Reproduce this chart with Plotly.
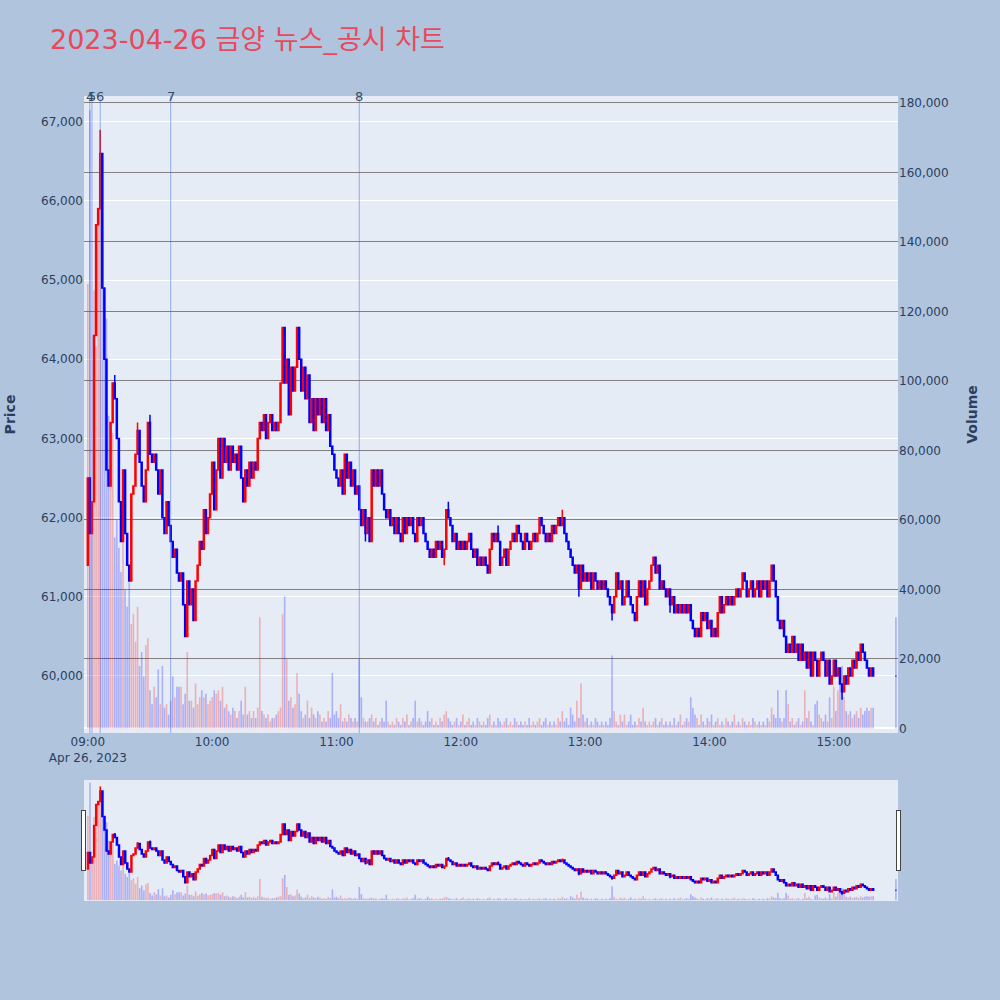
import pandas as pd
import plotly.graph_objects as go
from plotly.subplots import make_subplots

# ---- data -------------------------------------------------------------
minute_times = list(pd.date_range("2023-04-26 09:00", periods=380, freq="min")) + [
    pd.Timestamp("2023-04-26 15:30")
]

first_open = 61400

close = [
    62500, 61800, 62200, 64300, 65700, 65900, 66600, 64900, 64000, 62600,
    62400, 63200, 63700, 63500, 63000, 62200, 61700, 62600, 61800, 61400,
    61200, 62300, 62400, 62800, 63100, 62700, 62400, 62200, 62600, 63200,
    62800, 62700, 62800, 62600, 62300, 62600, 62000, 61800, 62200, 61900,
    61700, 61500, 61600, 61300, 61200, 61300, 60900, 60500, 61200, 60900,
    61100, 60700, 61200, 61400, 61700, 61600, 62100, 61800, 62000, 62300,
    62700, 62100, 62600, 63000, 62500, 63000, 62700, 62900, 62600, 62900,
    62700, 62800, 62600, 62900, 62500, 62200, 62600, 62400, 62700, 62500,
    62700, 62600, 63000, 63200, 63100, 63300, 63000, 63200, 63300, 63100,
    63200, 63100, 63200, 63700, 64400, 63700, 64000, 63300, 63900, 63600,
    63900, 64400, 64000, 63600, 63900, 63500, 63800, 63200, 63500, 63100,
    63500, 63300, 63500, 63200, 63500, 63100, 63300, 62900, 62800, 62600,
    62500, 62400, 62600, 62300, 62800, 62500, 62700, 62400, 62600, 62300,
    62400, 62100, 61900, 62100, 61800, 62000, 61700, 62600, 62400, 62600,
    62400, 62600, 62300, 62100, 62000, 62100, 61900, 62000, 61800, 62000,
    61800, 61700, 62000, 61800, 62000, 61900, 62000, 61800, 61700, 62000,
    61900, 62000, 61800, 61700, 61600, 61500, 61600, 61500, 61700, 61600,
    61700, 61500, 61600, 62100, 62000, 61900, 61700, 61800, 61600, 61700,
    61600, 61700, 61600, 61700, 61800, 61600, 61500, 61600, 61400, 61500,
    61400, 61500, 61400, 61300, 61600, 61800, 61700, 61800, 61700, 61400,
    61500, 61600, 61400, 61600, 61700, 61800, 61700, 61900, 61800, 61700,
    61600, 61800, 61700, 61600, 61700, 61800, 61700, 61800, 62000, 61900,
    61800, 61700, 61800, 61700, 61900, 61800, 61900, 62000, 61900, 62000,
    61800, 61700, 61600, 61500, 61400, 61300, 61400, 61100, 61400, 61200,
    61300, 61200, 61300, 61100, 61300, 61200, 61100, 61200, 61100, 61200,
    61100, 61000, 60900, 60800, 61000, 61300, 61100, 61200, 60900, 61000,
    61200, 61000, 60900, 60800, 60700, 61000, 61200, 61000, 61200, 60900,
    61100, 61200, 61400, 61500, 61300, 61400, 61100, 61200, 61100, 61000,
    61100, 60900, 61000, 60800, 60900, 60800, 60900, 60800, 60900, 60800,
    60900, 60700, 60600, 60500, 60600, 60500, 60800, 60700, 60800, 60600,
    60700, 60500, 60600, 60500, 60800, 61000, 60800, 60900, 61000, 60900,
    61000, 60900, 61000, 61100, 61000, 61100, 61300, 61200, 61000, 61100,
    61200, 61000, 61100, 61200, 61000, 61200, 61100, 61200, 61000, 61200,
    61400, 61200, 61000, 60700, 60600, 60700, 60500, 60300, 60400, 60300,
    60500, 60300, 60400, 60200, 60400, 60200, 60300, 60100, 60300, 60000,
    60300, 60200, 60000, 60200, 60300, 60200, 60000, 60200, 59900, 60000,
    60200, 60000, 60100, 59900, 59800, 60000, 59900, 60100, 60000, 60200,
    60100, 60300, 60200, 60400, 60300, 60200, 60100, 60000, 60100, 60000,
    60000,
]

volume = [
    128000, 178000, 62000, 126000, 110000, 150000, 172000, 163000, 125000, 118000,
    90000, 70000, 85000, 55000, 60000, 52000, 45000, 58000, 40000, 35000,
    42000, 30000, 33000, 25000, 35000, 18000, 22000, 15000, 24000, 26000,
    11000, 7000, 12000, 9000, 17000, 7000, 18000, 6000, 7000, 4000,
    8000, 15000, 9000, 12000, 12000, 12000, 7000, 10000, 22000, 8000,
    8000, 6000, 13000, 7000, 9000, 11000, 9000, 10000, 7000, 8000,
    9000, 11000, 10000, 11000, 8000, 12000, 6000, 7000, 5000, 4000,
    6000, 5000, 3000, 5000, 8000, 4000, 12000, 4000, 5000, 3000,
    5000, 3000, 6000, 32000, 5000, 4000, 3000, 4000, 2000, 3000,
    3000, 4000, 5000, 6000, 33000, 38000, 20000, 8000, 9000, 6000,
    7000, 16000, 10000, 5000, 3000, 4000, 8000, 3000, 6000, 4000,
    3000, 5000, 4000, 2000, 3000, 2000, 5000, 3000, 16000, 4000,
    5000, 3000, 7000, 2000, 3000, 2000, 4000, 3000, 2000, 3000,
    2000, 20000, 9000, 3000, 2000, 2000, 3000, 4000, 2000, 3000,
    1000, 2000, 3000, 2000, 8000, 2000, 1000, 2000, 1000, 3000,
    2000, 1000, 3000, 2000, 4000, 1000, 2000, 3000, 8000, 2000,
    3000, 2000, 1000, 2000, 5000, 2000, 3000, 1000, 2000, 1000,
    3000, 2000, 4000, 5000, 3000, 2000, 1000, 2000, 3000, 1000,
    2000, 4000, 1000, 2000, 3000, 1000, 2000, 1000, 3000, 2000,
    1000, 2000, 1000, 3000, 4000, 1000, 2000, 1000, 3000, 2000,
    1000, 2000, 3000, 1000, 2000, 1000, 3000, 2000, 1000, 2000,
    1000, 2000, 1000, 3000, 1000, 2000, 1000, 2000, 3000, 1000,
    2000, 3000, 1000, 2000, 1000, 2000, 1000, 3000, 2000, 5000,
    2000, 3000, 1000, 6000, 4000, 2000, 8000, 3000, 13000, 4000,
    2000, 3000, 1000, 2000, 1000, 3000, 2000, 1000, 2000, 1000,
    2000, 1000, 3000, 21000, 5000, 2000, 1000, 4000, 2000, 4000,
    1000, 2000, 4000, 1000, 2000, 1000, 3000, 2000, 6000, 2000,
    1000, 2000, 1000, 2000, 3000, 1000, 2000, 3000, 1000, 2000,
    1000, 2000, 1000, 3000, 1000, 2000, 4000, 1000, 2000, 3000,
    2000, 9000, 6000, 4000, 3000, 1000, 4000, 2000, 1000, 3000,
    2000, 4000, 1000, 2000, 3000, 1000, 2000, 1000, 3000, 2000,
    1000, 2000, 4000, 1000, 2000, 1000, 3000, 2000, 1000, 2000,
    1000, 3000, 2000, 1000, 2000, 1000, 2000, 1000, 3000, 2000,
    6000, 4000, 3000, 11000, 3000, 2000, 3000, 11000, 7000, 2000,
    3000, 1000, 2000, 3000, 1000, 2000, 11000, 3000, 5000, 2000,
    1000, 7000, 8000, 4000, 3000, 2000, 4000, 2000, 9000, 3000,
    12000, 5000, 11000, 13000, 18000, 9000, 5000, 4000, 5000, 3000,
    4000, 5000, 3000, 6000, 4000, 5000, 6000, 5000, 6000, 6000,
    32000,
]

# extra wick extremes (minute index -> price)
wick_high = {6: 66900, 13: 63800, 24: 63200, 30: 63300, 174: 62200, 198: 61900, 229: 62100}
wick_low = {134: 61700, 172: 61400, 237: 61000, 253: 60700, 281: 60800, 364: 59700}

news_times = ["2023-04-26 09:01", "2023-04-26 09:02", "2023-04-26 09:06",
              "2023-04-26 09:40", "2023-04-26 11:11"]
news_labels = ["4", "5", "6", "7", "8"]

title_text = "2023-04-26 금양 뉴스_공시 차트"

# ---- derived OHLC ------------------------------------------------------
open_ = [first_open] + close[:-1]
high = [max(o, c) for o, c in zip(open_, close)]
low = [min(o, c) for o, c in zip(open_, close)]
for i, v in wick_high.items():
    high[i] = max(high[i], v)
for i, v in wick_low.items():
    low[i] = min(low[i], v)

vol_colors = ["rgba(255,0,0,0.25)" if c > o else "rgba(0,0,255,0.25)"
              for o, c in zip(open_, close)]

# ---- figure ------------------------------------------------------------
fig = make_subplots(specs=[[{"secondary_y": True}]])

fig.add_trace(
    go.Candlestick(
        x=minute_times, open=open_, high=high, low=low, close=close,
        increasing=dict(line=dict(color="red", width=1.5), fillcolor="red"),
        decreasing=dict(line=dict(color="blue", width=1.5), fillcolor="blue"),
        name="Price", showlegend=False,
    ),
    secondary_y=False,
)
fig.add_trace(
    go.Bar(x=minute_times, y=volume, marker=dict(color=vol_colors, line=dict(width=0)),
           name="Volume", showlegend=False),
    secondary_y=True,
)

for t, lab in zip(news_times, news_labels):
    fig.add_shape(type="line", x0=t, x1=t, xref="x", y0=0, y1=1, yref="paper",
                  line=dict(color="rgba(65,105,225,0.5)", width=1))
    fig.add_annotation(x=t, y=1, xref="x", yref="paper", text=lab, showarrow=False,
                       xanchor="center", yanchor="middle",
                       font=dict(size=13, color="#3b4a60"))

fig.update_layout(
    width=1000, height=1000,
    paper_bgcolor="lightsteelblue",
    plot_bgcolor="#E5ECF6",
    font=dict(family="DejaVu Sans, Noto Sans CJK KR, sans-serif", size=12, color="#2a3f5f"),
    title=dict(text=title_text, x=0.05, xanchor="left", y=0.96, yanchor="middle",
               font=dict(size=27, color="#E8495B",
                         family="DejaVu Sans, Noto Sans CJK KR, sans-serif")),
    margin=dict(l=84, r=102, t=96, b=100),
    showlegend=False,
    bargap=0.2,
)

fig.update_xaxes(
    domain=[0, 1],
    range=["2023-04-26 08:58:10", "2023-04-26 15:31:00"],
    showgrid=False,
    rangeslider=dict(visible=True, thickness=0.15, bgcolor="#E5ECF6"),
)
fig.update_yaxes(title=dict(text="<b>Price</b>", standoff=22), range=[59280, 67325],
                 dtick=1000, tickformat=",", gridcolor="white", showgrid=True,
                 automargin=False, secondary_y=False)
fig.update_yaxes(title=dict(text="<b>Volume</b>", standoff=19), range=[-1300, 182000],
                 tick0=0, dtick=20000, tickformat=",", gridcolor="gray", showgrid=True,
                 zeroline=True, zerolinecolor="white", zerolinewidth=2,
                 automargin=False, secondary_y=True)

fig.write_html("out.html", config={"displayModeBar": False},
               post_script="document.body.style.margin='0px';")
